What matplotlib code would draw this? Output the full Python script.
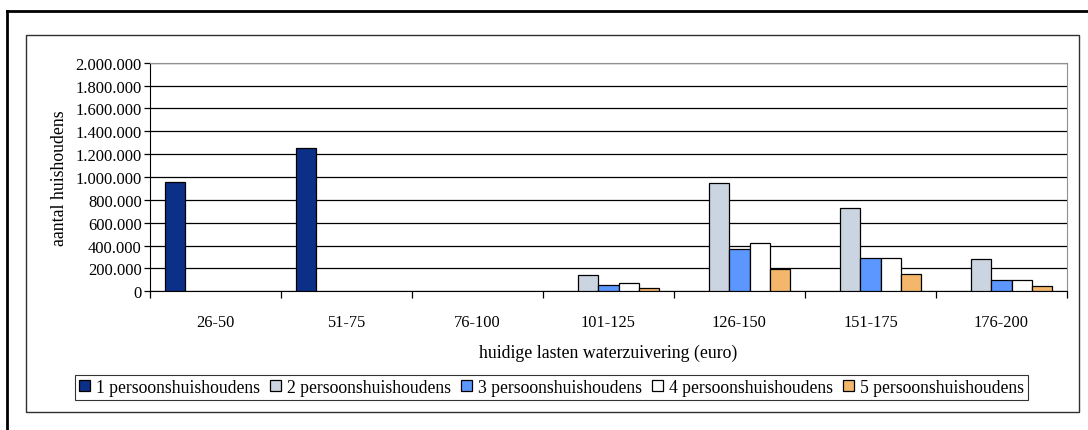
import numpy as np
import matplotlib.pyplot as plt
from matplotlib.lines import Line2D
from matplotlib.patches import Rectangle
from matplotlib.ticker import FuncFormatter

categories = ["26-50", "51-75", "76-100", "101-125", "126-150", "151-175", "176-200"]
series_names = ["1 persoonshuishoudens", "2 persoonshuishoudens", "3 persoonshuishoudens",
                "4 persoonshuishoudens", "5 persoonshuishoudens"]
p1 = [959000, 1256000, 0, 0, 0, 0, 0]
p2 = [0, 0, 0, 145000, 945000, 729000, 280000]
p3 = [0, 0, 0, 52000, 373000, 294000, 99000]
p4 = [0, 0, 0, 70000, 420000, 294000, 99000]
p5 = [0, 0, 0, 29000, 192000, 149000, 44000]
colors = ["#0c2f87", "#cbd5e2", "#5b97ff", "#ffffff", "#f4b66b"]

plt.rcParams['font.family'] = 'Liberation Serif'

W, H = 1088, 431
fig = plt.figure(figsize=(W / 100, H / 100), dpi=100)
ax = fig.add_axes([150 / W, 1 - 292.3 / H, (1067 - 150) / W, (292.3 - 63.7) / H])

x = np.arange(len(categories))
w = 1 / 6.5
for i, (vals, c) in enumerate(zip([p1, p2, p3, p4, p5], colors)):
    # zero values are left out, as in the original (no flat bar on the axis)
    h = np.where(np.array(vals) == 0, np.nan, vals)
    ax.bar(x + (i - 2) * w, h, width=w, color=c, edgecolor="black", linewidth=0.9,
           label=series_names[i], zorder=3)

ax.set_xlim(-0.5, len(categories) - 0.5)
ax.set_ylim(0, 2000000)
ax.set_yticks(np.arange(0, 2000001, 200000))
ax.yaxis.set_major_formatter(FuncFormatter(lambda v, p: f"{int(v):,}".replace(",", ".")))
ax.yaxis.grid(True, color="black", linewidth=0.9, zorder=0)
ax.set_axisbelow(True)

ax.set_xticks(x)
ax.set_xticklabels(categories)
ax.set_xticks(np.arange(-0.5, len(categories)), minor=True)
ax.tick_params(axis="x", which="major", length=0, pad=16, labelsize=11.8)
ax.tick_params(axis="x", which="minor", length=5, width=0.9, direction="out")
ax.tick_params(axis="y", length=4, width=0.9, labelsize=11.9, pad=2)

for s in ["top", "right"]:
    ax.spines[s].set_color("#909090")
ax.spines["left"].set_color("black")
ax.spines["bottom"].set_color("black")

ax.set_ylabel("aantal huishoudens", fontsize=12.8, labelpad=5)
ax.set_xlabel("huidige lasten waterzuivering (euro)", fontsize=12.8, labelpad=10)

leg = ax.legend(loc="center", bbox_to_anchor=(551.5 / W, 1 - 388.5 / H), bbox_transform=fig.transFigure,
                ncol=5, frameon=True, fancybox=False, edgecolor="black", fontsize=12.7,
                handlelength=0.57, handleheight=0.57, handletextpad=0.34, columnspacing=0.62,
                borderpad=0.25, borderaxespad=0)
leg.get_frame().set_linewidth(0.8)

# chart area frame and outer frame
fig.patches.append(Rectangle((26 / W, 1 - 413 / H), (1079 - 26) / W, (413 - 36) / H,
                             transform=fig.transFigure, fill=False, edgecolor="#303030", linewidth=1))
fig.lines.append(Line2D([7 / W, 1], [1 - 12 / H, 1 - 12 / H], transform=fig.transFigure,
                        color="black", linewidth=2))
fig.lines.append(Line2D([7 / W, 7 / W], [0, 1 - 12 / H], transform=fig.transFigure,
                        color="black", linewidth=2))

fig.savefig("out.png", dpi=100)
